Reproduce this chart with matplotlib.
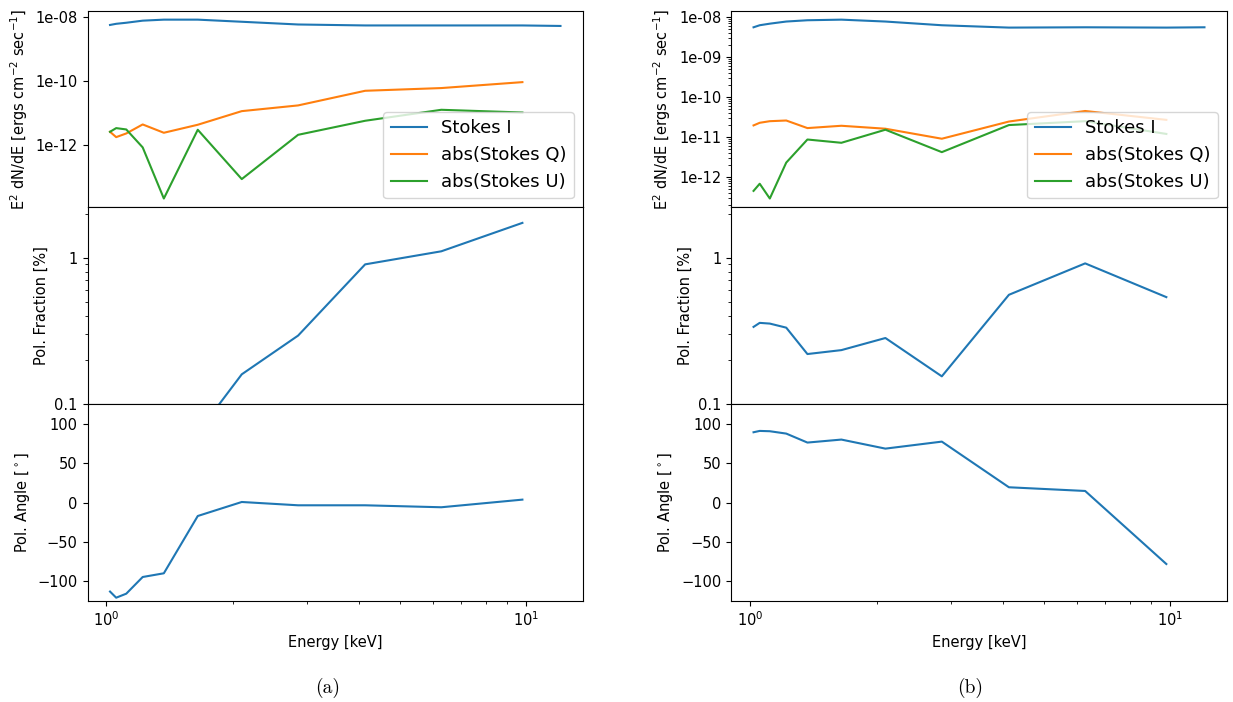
import matplotlib
matplotlib.use("Agg")
import matplotlib.pyplot as plt
from matplotlib.ticker import FormatStrFormatter, NullFormatter, NullLocator

# energy bins [keV]; Stokes I has one extra bin at the top end
energy = [1.02, 1.055, 1.115, 1.22, 1.37, 1.65, 2.1, 2.86, 4.13, 6.27, 9.78]
energy_i = [1.02, 1.055, 1.115, 1.22, 1.37, 1.65, 2.1, 2.86, 4.13, 6.27, 9.78, 12.05]

# panel (a)
stokes_i_a = [5.8e-9, 6.3e-9, 6.8e-9, 7.9e-9, 8.5e-9, 8.5e-9, 7.3e-9, 6.0e-9, 5.6e-9, 5.6e-9, 5.6e-9, 5.4e-9]
stokes_q_a = [2.67e-12, 1.82e-12, 2.37e-12, 4.53e-12, 2.49e-12, 4.43e-12, 1.18e-11, 1.78e-11, 5.1e-11, 6.2e-11, 9.5e-11]
stokes_u_a = [2.67e-12, 3.48e-12, 3.16e-12, 8.7e-13, 2.2e-14, 3.09e-12, 8.9e-14, 2.15e-12, 5.9e-12, 1.3e-11, 1.07e-11]
pol_frac_a = [0.065, 0.06, 0.054, 0.058, 0.029, 0.064, 0.16, 0.294, 0.90, 1.105, 1.727]
pol_ang_a = [-113, -120.8, -115.7, -94.5, -89.8, -17, 0.8, -3.4, -3.4, -5.9, 3.8]

# panel (b)
stokes_i_b = [5.6e-9, 6.3e-9, 6.9e-9, 7.8e-9, 8.4e-9, 8.7e-9, 7.8e-9, 6.3e-9, 5.5e-9, 5.6e-9, 5.5e-9, 5.6e-9]
stokes_q_b = [1.96e-11, 2.28e-11, 2.5e-11, 2.6e-11, 1.68e-11, 1.92e-11, 1.62e-11, 9.1e-12, 2.45e-11, 4.5e-11, 2.7e-11]
stokes_u_b = [4.5e-13, 6.8e-13, 2.9e-13, 2.3e-12, 8.7e-12, 7.2e-12, 1.53e-11, 4.2e-12, 2.0e-11, 2.5e-11, 1.2e-11]
pol_frac_b = [0.337, 0.359, 0.355, 0.333, 0.22, 0.234, 0.283, 0.155, 0.558, 0.914, 0.538]
pol_ang_b = [89.4, 91.1, 90.7, 87.7, 76.3, 80.1, 68.6, 77.5, 19.5, 14.8, -78]

plt.rcParams["font.size"] = 10.5

W, H = 1233, 702
fig = plt.figure(figsize=(W / 100, H / 100), dpi=100)


def panel(x0, x1, si, sq, su, pf, pa, yticks):
    gs = fig.add_gridspec(3, 1, left=x0 / W, right=x1 / W, top=1 - 10.7 / H,
                          bottom=1 - 601 / H, hspace=0)
    ax1 = fig.add_subplot(gs[0])
    ax2 = fig.add_subplot(gs[1], sharex=ax1)
    ax3 = fig.add_subplot(gs[2], sharex=ax1)

    ax1.plot(energy_i, si, label="Stokes I")
    ax1.plot(energy, sq, label="abs(Stokes Q)")
    ax1.plot(energy, su, label="abs(Stokes U)")
    ax1.set_xscale("log")
    ax1.set_yscale("log")
    ax1.set_yticks(yticks)
    if len(yticks) < 4:
        ax1.yaxis.set_minor_locator(NullLocator())
    ax1.yaxis.set_major_formatter(FormatStrFormatter("%.0e"))
    ax1.yaxis.set_minor_formatter(NullFormatter())
    ax1.set_ylabel(r"E$^2$ dN/dE [ergs cm$^{-2}$ sec$^{-1}$]")
    ax1.legend(loc="lower right", fontsize=13)

    ax2.plot(energy, pf)
    ax2.set_yscale("log")
    ax2.set_ylim(0.1, 2.2)
    ax2.yaxis.set_major_formatter(FormatStrFormatter("%g"))
    ax2.yaxis.set_minor_formatter(NullFormatter())
    ax2.set_ylabel("Pol. Fraction [%]")

    ax3.plot(energy, pa)
    ax3.set_ylim(-125, 125)
    ax3.set_ylabel(r"Pol. Angle [$^\circ$]")
    ax3.set_xlabel("Energy [keV]")

    for ax in (ax1, ax2):
        ax.tick_params(labelbottom=False)


panel(87.5, 583, stokes_i_a, stokes_q_a, stokes_u_a, pol_frac_a, pol_ang_a,
      [1e-8, 1e-10, 1e-12])
panel(731, 1227, stokes_i_b, stokes_q_b, stokes_u_b, pol_frac_b, pol_ang_b,
      [1e-8, 1e-9, 1e-10, 1e-11, 1e-12])

fig.text(328 / W, 1 - 688 / H, "(a)", family="cmr10", fontsize=14, ha="center", va="center")
fig.text(970 / W, 1 - 688 / H, "(b)", family="cmr10", fontsize=14, ha="center", va="center")

fig.savefig("out.png", dpi=100)
